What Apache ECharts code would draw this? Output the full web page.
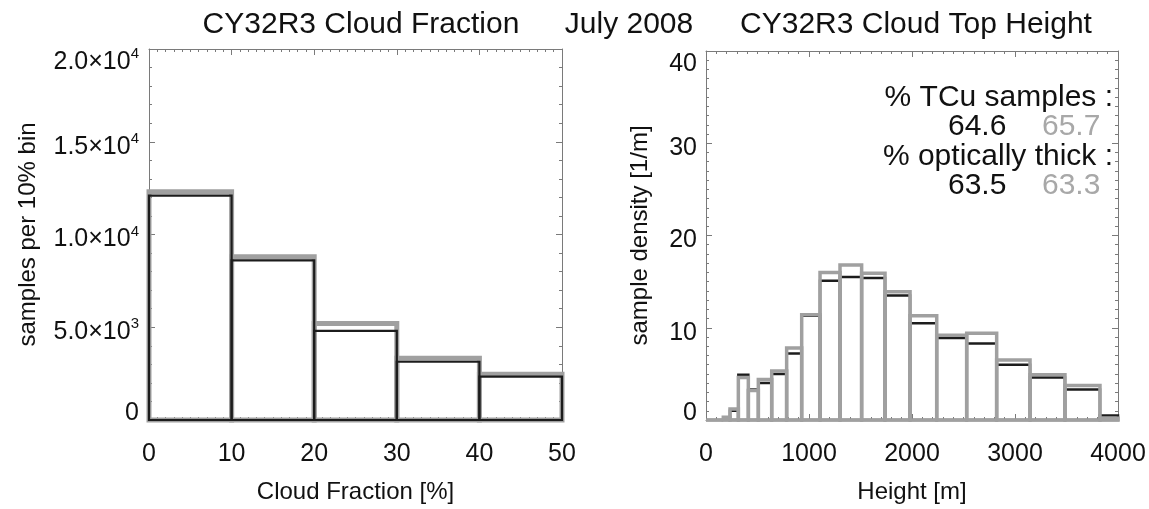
<!DOCTYPE html>
<html>
<head>
<meta charset="utf-8">
<script src="https://cdn.jsdelivr.net/npm/echarts@6/dist/echarts.min.js"></script>
<style>
html,body{margin:0;padding:0;background:#fff;}
#c{width:1149px;height:509px;}
</style>
</head>
<body>
<div id="c"></div>
<script>
// ---- Data ----
// Cloud fraction histogram (bins of 10 %)
const cfBinEdges = [0, 10, 20, 30, 40, 50];
const cfBlack = [12100, 8600, 4800, 3140, 2340];
const cfGrey  = [12300, 8800, 5200, 3330, 2460];
const cfYTickValues = [0, 5000, 10000, 15000, 20000];
const cfYTickMantissa = ['0', '5.0', '1.0', '1.5', '2.0'];
const cfYTickExp = ['', '3', '4', '4', '4'];

// Cloud top height histogram (variable-width bins, metres)
const cthBinEdges = [0, 168, 233, 314, 411, 508, 638, 783, 929, 1107, 1301, 1511, 1738, 1981, 2240, 2531, 2822, 3146, 3485, 3825, 4000];
const cthBlack = [0, 0, 1.0, 4.9, 3.3, 4.0, 5.0, 7.2, 11.3, 15.1, 15.5, 15.4, 13.5, 10.5, 8.9, 8.3, 6.0, 4.6, 3.3, 0.5];
const cthGrey  = [0, 0.3, 1.2, 4.6, 3.2, 4.4, 5.3, 7.8, 11.4, 16.0, 16.8, 15.9, 13.9, 11.3, 9.2, 9.4, 6.5, 4.9, 3.75, 0.2];

// Annotation
const annTCu = ['64.6', '65.7'];
const annThick = ['63.5', '63.3'];

// ---- Helpers ----
function binData(edges, vals) {
  return vals.map((v, i) => [edges[i], edges[i + 1], v]);
}
function outlineRenderer(color, lw) {
  return function (params, api) {
    const x0 = api.value(0), x1 = api.value(1), v = api.value(2);
    const p0 = api.coord([x0, v]);
    const p1 = api.coord([x1, 0]);
    return {
      type: 'rect',
      shape: { x: p0[0], y: p0[1], width: p1[0] - p0[0], height: p1[1] - p0[1] },
      style: { fill: 'none', stroke: color, lineWidth: lw }
    };
  };
}

const FONT = 'Liberation Sans';
const AX = '#7a7a7a';
const GREY = '#a0a0a0';
const BLACK = '#1c1c1c';
const FS = 25;   // tick labels
const FN = 24;   // axis names
const FT = 30;   // titles / annotation

function frameAxis(base) {
  return Object.assign({
    type: 'value',
    axisLine: { show: true, onZero: false, lineStyle: { color: AX, width: 1 } },
    axisTick: { show: true, inside: true, length: 6, lineStyle: { color: AX } },
    minorTick: { show: true, length: 3, lineStyle: { color: AX } },
    splitLine: { show: false },
    minorSplitLine: { show: false },
    axisLabel: { show: false }
  }, base);
}

const labelRich = {
  a: { fontFamily: FONT, fontSize: FS, color: '#111', padding: [10, 0, 0, 0] },
  s: { fontFamily: FONT, fontSize: 15, color: '#111', verticalAlign: 'top', padding: [7, 0, 0, 0] },
  ta: { fontFamily: FONT, fontSize: FS, color: '#111', padding: [26, 0, 0, 0] },
  ts: { fontFamily: FONT, fontSize: 15, color: '#111', verticalAlign: 'top', padding: [23, 0, 0, 0] },
  z: { fontFamily: FONT, fontSize: FS, color: '#111', padding: [0, 0, 14, 0] }
};
const plainLabel = function (v) { return String(v); };

const chart = echarts.init(document.getElementById('c'));
const titleStyle = { fontFamily: FONT, fontSize: FT, fontWeight: 'normal', color: '#111' };
const option = {
  backgroundColor: '#fff',
  animation: false,
  textStyle: { fontFamily: FONT },
  title: [
    { text: 'CY32R3 Cloud Fraction', left: 356, top: 5, textAlign: 'center', textStyle: titleStyle },
    { text: 'July 2008', left: 624, top: 5, textAlign: 'center', textStyle: titleStyle },
    { text: 'CY32R3 Cloud Top Height', left: 911, top: 5, textAlign: 'center', textStyle: titleStyle }
  ],
  grid: [
    { left: 149, right: 1149 - 562, top: 49, bottom: 509 - 423, containLabel: false },
    { left: 706, right: 1149 - 1118, top: 51, bottom: 509 - 423, containLabel: false }
  ],
  xAxis: [
    frameAxis({ gridIndex: 0, position: 'bottom', min: 0, max: 50, interval: 10,
      minorTick: { show: true, splitNumber: 10, length: 3, lineStyle: { color: AX } },
      axisLabel: { show: true, margin: 22, fontFamily: FONT, fontSize: FS, color: '#111', formatter: plainLabel },
      name: 'Cloud Fraction [%]', nameLocation: 'middle', nameGap: 60,
      nameTextStyle: { fontFamily: FONT, fontSize: FN, color: '#111' } }),
    frameAxis({ gridIndex: 0, position: 'top', min: 0, max: 50, interval: 10,
      minorTick: { show: true, splitNumber: 10, length: 3, lineStyle: { color: AX } } }),
    frameAxis({ gridIndex: 1, position: 'bottom', min: 0, max: 4000, interval: 1000,
      minorTick: { show: true, splitNumber: 10, length: 3, lineStyle: { color: AX } },
      axisLabel: { show: true, margin: 22, fontFamily: FONT, fontSize: FS, color: '#111', formatter: plainLabel },
      name: 'Height [m]', nameLocation: 'middle', nameGap: 60,
      nameTextStyle: { fontFamily: FONT, fontSize: FN, color: '#111' } }),
    frameAxis({ gridIndex: 1, position: 'top', min: 0, max: 4000, interval: 1000,
      minorTick: { show: true, splitNumber: 10, length: 3, lineStyle: { color: AX } } })
  ],
  yAxis: [
    frameAxis({ gridIndex: 0, position: 'left', min: 0, max: 20000, interval: 5000,
      minorTick: { show: true, splitNumber: 5, length: 3, lineStyle: { color: AX } },
      axisLabel: {
        show: true, margin: 10, rich: labelRich,
        formatter: function (val) {
          const i = cfYTickValues.indexOf(val);
          if (i === 0) return '{z|' + cfYTickMantissa[i] + '}';
          const last = i === cfYTickValues.length - 1;
          return (last ? '{ta|' : '{a|') + cfYTickMantissa[i] + '×10}' + (last ? '{ts|' : '{s|') + cfYTickExp[i] + '}';
        }
      },
      name: 'samples per 10% bin', nameLocation: 'middle', nameGap: 109,
      nameTextStyle: { fontFamily: FONT, fontSize: FN, color: '#111' } }),
    frameAxis({ gridIndex: 0, position: 'right', min: 0, max: 20000, interval: 5000,
      minorTick: { show: true, splitNumber: 5, length: 3, lineStyle: { color: AX } } }),
    frameAxis({ gridIndex: 1, position: 'left', min: 0, max: 40, interval: 10,
      minorTick: { show: true, splitNumber: 10, length: 3, lineStyle: { color: AX } },
      axisLabel: {
        show: true, margin: 9, rich: labelRich,
        formatter: function (val) {
          if (val === 0) return '{z|0}';
          if (val === 40) return '{ta|' + val + '}';
          return '{a|' + val + '}';
        }
      },
      name: 'sample density [1/m]', nameLocation: 'middle', nameGap: 54,
      nameTextStyle: { fontFamily: FONT, fontSize: FN, color: '#111' } }),
    frameAxis({ gridIndex: 1, position: 'right', min: 0, max: 40, interval: 10,
      minorTick: { show: true, splitNumber: 10, length: 3, lineStyle: { color: AX } } })
  ],
  series: [
    { type: 'custom', name: 'grey-cf', xAxisIndex: 0, yAxisIndex: 0, clip: false,
      renderItem: outlineRenderer(GREY, 5), data: binData(cfBinEdges, cfGrey), z: 2 },
    { type: 'custom', name: 'black-cf', xAxisIndex: 0, yAxisIndex: 0, clip: false,
      renderItem: outlineRenderer(BLACK, 2.2), data: binData(cfBinEdges, cfBlack), z: 3 },
    { type: 'custom', name: 'black-cth', xAxisIndex: 2, yAxisIndex: 2, clip: false,
      renderItem: outlineRenderer(BLACK, 2.5), data: binData(cthBinEdges, cthBlack), z: 2 },
    { type: 'custom', name: 'grey-cth', xAxisIndex: 2, yAxisIndex: 2, clip: false,
      renderItem: outlineRenderer(GREY, 3.5), data: binData(cthBinEdges, cthGrey), z: 3 }
  ],
  graphic: [
    { type: 'text', right: 1149 - 1113, top: 83,
      style: { text: '% TCu samples :', fontFamily: FONT, fontSize: FT, fill: '#111' } },
    { type: 'text', left: 948, top: 112,
      style: { text: annTCu[0], fontFamily: FONT, fontSize: FT, fill: '#111', textAlign: 'center' } },
    { type: 'text', left: 1042, top: 112,
      style: { text: annTCu[1], fontFamily: FONT, fontSize: FT, fill: '#a8a8a8', textAlign: 'center' } },
    { type: 'text', right: 1149 - 1113, top: 142,
      style: { text: '% optically thick :', fontFamily: FONT, fontSize: FT, fill: '#111' } },
    { type: 'text', left: 948, top: 171,
      style: { text: annThick[0], fontFamily: FONT, fontSize: FT, fill: '#111', textAlign: 'center' } },
    { type: 'text', left: 1042, top: 171,
      style: { text: annThick[1], fontFamily: FONT, fontSize: FT, fill: '#a8a8a8', textAlign: 'center' } }
  ]
};
chart.setOption(option);
</script>
</body>
</html>
